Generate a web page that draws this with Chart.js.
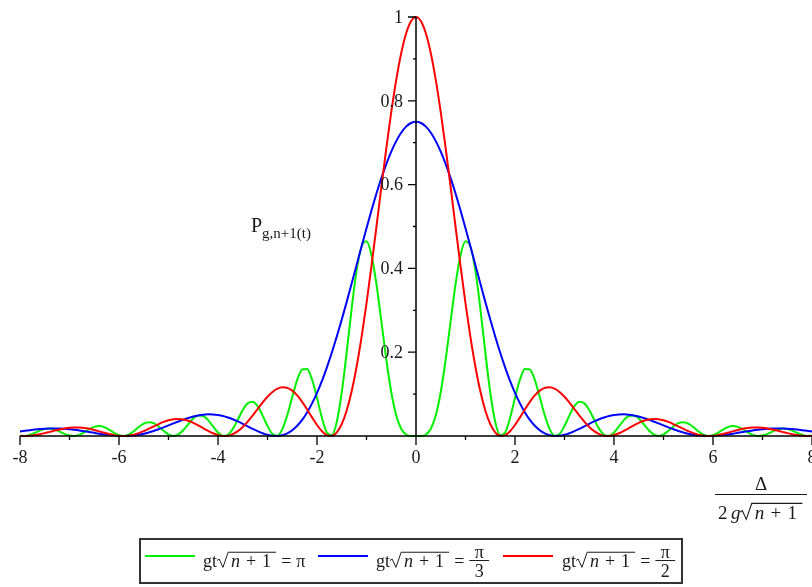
<!DOCTYPE html>
<html><head><meta charset="utf-8">
<script src="https://cdn.jsdelivr.net/npm/chart.js@4/dist/chart.umd.min.js"></script>
<style>html,body{margin:0;padding:0;background:#fff;overflow:hidden}#wrap{width:812px;height:587px;position:relative;overflow:hidden}</style>
</head><body><div id="wrap"><canvas id="c" width="812" height="587"></canvas></div>
<script>
// x = Δ / (2 g √(n+1))
const xValues = [
-8,-7.9,-7.8,-7.7,-7.6,-7.5,-7.4,-7.3,-7.2,-7.1,
-7,-6.9,-6.8,-6.7,-6.6,-6.5,-6.4,-6.3,-6.2,-6.1,
-6,-5.9,-5.8,-5.7,-5.6,-5.5,-5.4,-5.3,-5.2,-5.1,
-5,-4.9,-4.8,-4.7,-4.6,-4.5,-4.4,-4.3,-4.2,-4.1,
-4,-3.9,-3.8,-3.7,-3.6,-3.5,-3.4,-3.3,-3.2,-3.1,
-3,-2.9,-2.8,-2.7,-2.6,-2.5,-2.4,-2.3,-2.2,-2.1,
-2,-1.9,-1.8,-1.7,-1.6,-1.5,-1.4,-1.3,-1.2,-1.1,
-1,-0.9,-0.8,-0.7,-0.6,-0.5,-0.4,-0.3,-0.2,-0.1,
0,0.1,0.2,0.3,0.4,0.5,0.6,0.7,0.8,0.9,
1,1.1,1.2,1.3,1.4,1.5,1.6,1.7,1.8,1.9,
2,2.1,2.2,2.3,2.4,2.5,2.6,2.7,2.8,2.9,
3,3.1,3.2,3.3,3.4,3.5,3.6,3.7,3.8,3.9,
4,4.1,4.2,4.3,4.4,4.5,4.6,4.7,4.8,4.9,
5,5.1,5.2,5.3,5.4,5.5,5.6,5.7,5.8,5.9,
6,6.1,6.2,6.3,6.4,6.5,6.6,6.7,6.8,6.9,
7,7.1,7.2,7.3,7.4,7.5,7.6,7.7,7.8,7.9,
8];

// gt√(n+1) = π
const greenPi = [
0.0006,0.0002,0.0028,0.0075,0.0128,0.0167,0.0177,0.0154,0.0106,0.0050,
0.0010,0.0002,0.0032,0.0092,0.0163,0.0218,0.0237,0.0212,0.0151,0.0076,
0.0018,0.0001,0.0036,0.0115,0.0213,0.0295,0.0331,0.0307,0.0228,0.0125,
0.0036,0.0000,0.0037,0.0143,0.0285,0.0417,0.0490,0.0477,0.0379,0.0228,
0.0084,0.0004,0.0031,0.0171,0.0389,0.0618,0.0781,0.0819,0.0712,0.0493,
0.0238,0.0047,0.0008,0.0165,0.0501,0.0933,0.1338,0.1589,0.1597,0.1348,
0.0913,0.0431,0.0080,0.0019,0.0341,0.1038,0.2001,0.3042,0.3945,0.4517,
0.4646,0.4321,0.3631,0.2741,0.1829,0.1050,0.0495,0.0174,0.0037,0.0002,
0,0.0002,0.0037,0.0174,0.0495,0.1050,0.1829,0.2741,0.3631,0.4321,
0.4646,0.4517,0.3945,0.3042,0.2001,0.1038,0.0341,0.0019,0.0080,0.0431,
0.0913,0.1348,0.1597,0.1589,0.1338,0.0933,0.0501,0.0165,0.0008,0.0047,
0.0238,0.0493,0.0712,0.0819,0.0781,0.0618,0.0389,0.0171,0.0031,0.0004,
0.0084,0.0228,0.0379,0.0477,0.0490,0.0417,0.0285,0.0143,0.0037,0.0000,
0.0036,0.0125,0.0228,0.0307,0.0331,0.0295,0.0213,0.0115,0.0036,0.0001,
0.0018,0.0076,0.0151,0.0212,0.0237,0.0218,0.0163,0.0092,0.0032,0.0002,
0.0010,0.0050,0.0106,0.0154,0.0177,0.0167,0.0128,0.0075,0.0028,0.0002,
0.0006];

// gt√(n+1) = π/3
const bluePi3 = [
0.0106,0.0123,0.0139,0.0153,0.0165,0.0174,0.0179,0.0181,0.0178,0.0172,
0.0162,0.0149,0.0133,0.0114,0.0095,0.0075,0.0055,0.0037,0.0021,0.0009,
0.0002,0.0000,0.0004,0.0015,0.0032,0.0055,0.0085,0.0121,0.0161,0.0206,
0.0252,0.0300,0.0346,0.0390,0.0430,0.0464,0.0491,0.0509,0.0517,0.0515,
0.0501,0.0477,0.0442,0.0399,0.0348,0.0291,0.0232,0.0172,0.0116,0.0067,
0.0029,0.0005,0.0001,0.0019,0.0064,0.0138,0.0245,0.0386,0.0563,0.0778,
0.1029,0.1317,0.1639,0.1992,0.2373,0.2778,0.3201,0.3638,0.4081,0.4524,
0.4960,0.5381,0.5781,0.6153,0.6491,0.6786,0.7037,0.7237,0.7383,0.7470,
0.75,0.7470,0.7383,0.7237,0.7037,0.6786,0.6491,0.6153,0.5781,0.5381,
0.4960,0.4524,0.4081,0.3638,0.3201,0.2778,0.2373,0.1992,0.1639,0.1317,
0.1029,0.0778,0.0563,0.0386,0.0245,0.0138,0.0064,0.0019,0.0001,0.0005,
0.0029,0.0067,0.0116,0.0172,0.0232,0.0291,0.0348,0.0399,0.0442,0.0477,
0.0501,0.0515,0.0517,0.0509,0.0491,0.0464,0.0430,0.0390,0.0346,0.0300,
0.0252,0.0206,0.0161,0.0121,0.0085,0.0055,0.0032,0.0015,0.0004,0.0000,
0.0002,0.0009,0.0021,0.0037,0.0055,0.0075,0.0095,0.0114,0.0133,0.0149,
0.0162,0.0172,0.0178,0.0181,0.0179,0.0174,0.0165,0.0153,0.0139,0.0123,
0.0106];

// gt√(n+1) = π/2
const redPi2 = [
0.0001,0.0001,0.0007,0.0022,0.0043,0.0069,0.0099,0.0129,0.0157,0.0181,
0.0198,0.0205,0.0203,0.0192,0.0171,0.0143,0.0111,0.0077,0.0046,0.0021,
0.0005,0.0000,0.0009,0.0032,0.0068,0.0115,0.0170,0.0228,0.0285,0.0336,
0.0375,0.0400,0.0406,0.0394,0.0363,0.0315,0.0255,0.0189,0.0123,0.0065,
0.0022,0.0001,0.0008,0.0046,0.0116,0.0217,0.0343,0.0489,0.0643,0.0797,
0.0936,0.1051,0.1129,0.1163,0.1148,0.1082,0.0968,0.0815,0.0634,0.0444,
0.0263,0.0114,0.0020,0.0005,0.0088,0.0286,0.0610,0.1067,0.1654,0.2358,
0.3166,0.4052,0.4987,0.5937,0.6863,0.7728,0.8495,0.9131,0.9606,0.9900,
1,0.9900,0.9606,0.9131,0.8495,0.7728,0.6863,0.5937,0.4987,0.4052,
0.3166,0.2358,0.1654,0.1067,0.0610,0.0286,0.0088,0.0005,0.0020,0.0114,
0.0263,0.0444,0.0634,0.0815,0.0968,0.1082,0.1148,0.1163,0.1129,0.1051,
0.0936,0.0797,0.0643,0.0489,0.0343,0.0217,0.0116,0.0046,0.0008,0.0001,
0.0022,0.0065,0.0123,0.0189,0.0255,0.0315,0.0363,0.0394,0.0406,0.0400,
0.0375,0.0336,0.0285,0.0228,0.0170,0.0115,0.0068,0.0032,0.0009,0.0000,
0.0005,0.0021,0.0046,0.0077,0.0111,0.0143,0.0171,0.0192,0.0203,0.0205,
0.0198,0.0181,0.0157,0.0129,0.0099,0.0069,0.0043,0.0022,0.0007,0.0001,
0.0001];

const xLabeled = [-8, -6, -4, -2, 0, 2, 4, 6, 8];
const yLabeled = [0.2, 0.4, 0.6, 0.8, 1];
const legendRhs = [{num: 'π', den: null}, {num: 'π', den: '3'}, {num: 'π', den: '2'}];
const seriesColors = ['#00f000', '#0000ff', '#ff0000'];

const SERIF = '"Liberation Serif", "Times New Roman", serif';
const TXT = '#1a1a1a';

function drawRadical(ctx, x, base, s, lw) {
  const top = base - s * 0.82;
  let cx = x + s * 0.78;
  ctx.font = 'italic ' + s + 'px ' + SERIF;
  ctx.fillText('n', cx, base);
  cx += ctx.measureText('n').width + s * 0.33;
  ctx.font = s + 'px ' + SERIF;
  ctx.fillText('+', cx, base);
  cx += ctx.measureText('+').width + s * 0.33;
  ctx.fillText('1', cx, base);
  cx += ctx.measureText('1').width + s * 0.28;
  ctx.beginPath();
  ctx.lineWidth = lw;
  ctx.strokeStyle = TXT;
  ctx.moveTo(x, base - s * 0.36);
  ctx.lineTo(x + s * 0.12, base - s * 0.44);
  ctx.lineTo(x + s * 0.33, base + s * 0.02);
  ctx.lineTo(x + s * 0.62, top);
  ctx.lineTo(cx, top);
  ctx.stroke();
  return cx;
}

function drawLegendExpr(ctx, x, base, s, rhs) {
  ctx.fillStyle = TXT;
  ctx.textAlign = 'left';
  ctx.textBaseline = 'alphabetic';
  ctx.font = s + 'px ' + SERIF;
  ctx.fillText('gt', x, base);
  let cx = x + ctx.measureText('gt').width;
  cx = drawRadical(ctx, cx, base, s, 1);
  cx += s * 0.28;
  ctx.font = s + 'px ' + SERIF;
  ctx.fillText('=', cx, base);
  cx += ctx.measureText('=').width + s * 0.28;
  if (!rhs.den) {
    ctx.fillText(rhs.num, cx, base);
  } else {
    const w = s * 1.1;
    const barY = base - s * 0.36;
    ctx.beginPath(); ctx.lineWidth = 1; ctx.strokeStyle = TXT;
    ctx.moveTo(cx, barY); ctx.lineTo(cx + w, barY); ctx.stroke();
    ctx.textAlign = 'center';
    ctx.fillText(rhs.num, cx + w / 2, barY - 3);
    ctx.fillText(rhs.den, cx + w / 2, barY + s * 0.92);
    ctx.textAlign = 'left';
  }
}

const decor = {
  id: 'decor',
  afterDatasetsDraw(chart) {
    const ctx = chart.ctx, sx = chart.scales.x, sy = chart.scales.y;
    const x0 = sx.getPixelForValue(0), y0 = sy.getPixelForValue(0);
    ctx.save();
    ctx.strokeStyle = '#000';
    ctx.lineWidth = 1.5;
    ctx.beginPath();
    ctx.moveTo(sx.getPixelForValue(sx.min), y0); ctx.lineTo(sx.getPixelForValue(sx.max), y0);
    ctx.moveTo(x0, sy.getPixelForValue(sy.min)); ctx.lineTo(x0, sy.getPixelForValue(sy.max));
    ctx.stroke();
    ctx.lineWidth = 1.3;
    ctx.beginPath();
    sx.ticks.forEach(t => {
      const px = sx.getPixelForValue(t.value);
      const major = xLabeled.some(v => Math.abs(v - t.value) < 1e-6);
      ctx.moveTo(px, y0); ctx.lineTo(px, y0 + (major ? 9 : 4));
    });
    sy.ticks.forEach(t => {
      if (Math.abs(t.value) < 1e-6) return;
      const py = sy.getPixelForValue(t.value);
      const major = yLabeled.some(v => Math.abs(v - t.value) < 1e-6);
      ctx.moveTo(x0, py); ctx.lineTo(x0 - (major ? 8 : 3), py);
    });
    ctx.stroke();
    // y tick labels, right-aligned left of the axis
    ctx.fillStyle = TXT;
    ctx.font = '18px ' + SERIF;
    ctx.textAlign = 'right';
    ctx.textBaseline = 'middle';
    sy.ticks.forEach(t => {
      if (!t.label) return;
      ctx.fillText(t.label, x0 - 13, sy.getPixelForValue(t.value) + 1);
    });
    ctx.restore();
  },
  afterDraw(chart) {
    const ctx = chart.ctx;
    ctx.save();
    ctx.fillStyle = TXT;
    ctx.textAlign = 'left';
    ctx.textBaseline = 'alphabetic';
    // y label  P_{g,n+1}(t)
    ctx.font = '20px ' + SERIF;
    ctx.fillText('P', 251, 232);
    const pw = ctx.measureText('P').width;
    ctx.font = '15px ' + SERIF;
    ctx.fillText('g,n+1(t)', 251 + pw, 238);

    // x title  Δ / (2 g √(n+1))
    const s = 19;
    ctx.font = s + 'px ' + SERIF;
    ctx.textAlign = 'center';
    ctx.fillText('Δ', 761, 490);
    ctx.textAlign = 'left';
    ctx.beginPath(); ctx.strokeStyle = TXT; ctx.lineWidth = 1.2;
    ctx.moveTo(715, 494.5); ctx.lineTo(807, 494.5); ctx.stroke();
    ctx.fillText('2', 718, 519);
    ctx.font = 'italic ' + s + 'px ' + SERIF;
    ctx.fillText('g', 731, 519);
    drawRadical(ctx, 740, 519, s, 1.1);

    // legend box
    ctx.beginPath(); ctx.lineWidth = 2; ctx.strokeStyle = '#333';
    ctx.rect(140, 539, 542, 44); ctx.stroke();
    const items = [
      {x1: 145, x2: 195, tx: 203},
      {x1: 318, x2: 368, tx: 376},
      {x1: 503, x2: 553, tx: 562}
    ];
    items.forEach((it, i) => {
      ctx.beginPath(); ctx.lineWidth = 2; ctx.strokeStyle = seriesColors[i];
      ctx.moveTo(it.x1, 556); ctx.lineTo(it.x2, 556); ctx.stroke();
      drawLegendExpr(ctx, it.tx, 567, 18, legendRhs[i]);
    });
    ctx.restore();
  }
};

Chart.defaults.font.family = SERIF;

const mk = (arr) => xValues.map((x, i) => ({x: x, y: arr[i]}));

new Chart(document.getElementById('c'), {
  type: 'line',
  data: {
    datasets: [
      {label: 'gt√(n+1) = π', data: mk(greenPi), borderColor: seriesColors[0], order: 3},
      {label: 'gt√(n+1) = π/3', data: mk(bluePi3), borderColor: seriesColors[1], order: 2},
      {label: 'gt√(n+1) = π/2', data: mk(redPi2), borderColor: seriesColors[2], order: 1}
    ]
  },
  options: {
    responsive: false,
    animation: false,
    layout: {padding: {left: 20, right: 0, top: 17, bottom: 151}},
    plugins: {legend: {display: false}, tooltip: {enabled: false}},
    elements: {
      point: {radius: 0},
      line: {borderWidth: 2, cubicInterpolationMode: 'monotone', fill: false}
    },
    datasets: {line: {clip: false}},
    scales: {
      x: {
        type: 'linear', min: -8, max: 8, position: {y: 0},
        grid: {display: false}, border: {display: false},
        afterFit: (scale) => { scale.paddingLeft = 0; scale.paddingRight = 0; },
        ticks: {
          stepSize: 1, autoSkip: false, maxRotation: 0, padding: 3,
          color: TXT, font: {size: 18, family: SERIF},
          callback: (v) => xLabeled.some(l => Math.abs(l - v) < 1e-6) ? String(Math.round(v)) : ''
        }
      },
      y: {
        type: 'linear', min: 0, max: 1, position: {x: 0},
        grid: {display: false}, border: {display: false},
        afterFit: (scale) => { scale.paddingTop = 0; scale.paddingBottom = 0; },
        ticks: {
          display: false,
          stepSize: 0.1, autoSkip: false,
          color: TXT, font: {size: 18, family: SERIF},
          callback: (v) => {
            const hit = yLabeled.find(l => Math.abs(l - v) < 1e-6);
            return hit === undefined ? '' : String(hit);
          }
        }
      }
    }
  },
  plugins: [decor]
});
</script>
</body></html>
